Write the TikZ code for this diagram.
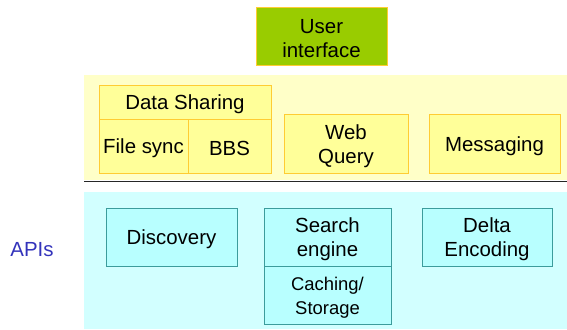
\documentclass[tikz,border=0pt]{standalone}
\usepackage{fontspec}
\setmainfont{Liberation Sans}
\definecolor{uigreen}{HTML}{99CC00}
\definecolor{gold}{HTML}{FFCC33}
\definecolor{bandyellow}{HTML}{FFFFC8}
\definecolor{boxyellow}{HTML}{FFFF99}
\definecolor{bandcyan}{HTML}{D2FFFF}
\definecolor{boxcyan}{HTML}{B8FFFF}
\definecolor{tealline}{HTML}{3C9C9C}
\definecolor{apiblue}{HTML}{3333BB}
\tikzset{
  txt/.style={inner sep=0pt, align=center,
    font=\fontsize{20.5}{24}\selectfont, text=black},
  % box with its caption set a little low, centred on the capitals
  blk/.style={rectangle, inner sep=0pt,
    label={[txt, yshift=-2.5bp]center:#1}},
  ybox/.style={blk=#1, draw=gold, fill=boxyellow, line width=1pt},
  cbox/.style={blk=#1, draw=tealline, fill=boxcyan, line width=0.8pt},
}
\begin{document}
\begin{tikzpicture}[x=1bp, y=-1bp]
\useasboundingbox (0,0) rectangle (567,329);
% background bands
\fill[bandyellow] (84,75) rectangle (567,180);
\fill[bandcyan] (84,192) rectangle (567,329);
\draw[line width=1pt, black!85] (84,181) -- (567,181);
% user interface
\node[blk={User\\interface}, draw=gold, fill=uigreen, line width=1pt,
  minimum width=131bp, minimum height=58bp] (ui) at (321.5,36) {};
% upper layer
\node[ybox={Data Sharing}, minimum width=172bp, minimum height=34bp] (share) at (185,102) {};
\node[ybox={File sync}, minimum width=89bp, minimum height=54bp] (sync) at (143.5,146) {};
\node[ybox={BBS}, minimum width=83bp, minimum height=54bp] (bbs) at (229.5,146) {};
\node[ybox={Web\\Query}, minimum width=124bp, minimum height=59bp] (web) at (346,143.5) {};
\node[ybox={Messaging}, minimum width=131bp, minimum height=59bp] (msg) at (494.5,143.5) {};
% API layer
\node[txt, text=apiblue] (apis) at (32,250) {APIs};
\node[cbox={Discovery}, minimum width=131bp, minimum height=58bp] (disc) at (171.5,237) {};
\node[cbox={Search\\engine}, minimum width=127bp, minimum height=58bp] (search) at (327.5,237) {};
\node[cbox={\fontsize{18.5}{23}\selectfont Caching/\\\fontsize{18.5}{23}\selectfont Storage},
  minimum width=127bp, minimum height=58bp] (cache) at (327.5,295) {};
\node[cbox={Delta\\Encoding}, minimum width=130bp, minimum height=58bp] (delta) at (487,237) {};
\end{tikzpicture}
\end{document}
